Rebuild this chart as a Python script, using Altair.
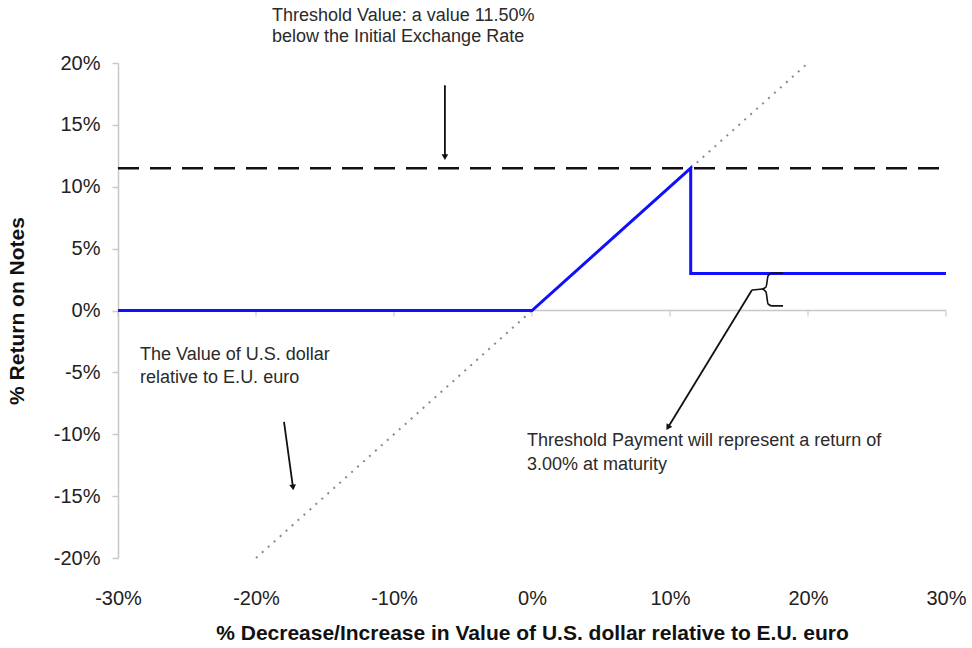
import altair as alt
import pandas as pd

# ---- data (percent units) ----
x_ticks = [-30, -20, -10, 0, 10, 20, 30]
y_ticks = [-20, -15, -10, -5, 0, 5, 10, 15, 20]

payoff_x = [-30, 0, 11.5, 11.5, 30]
payoff_y = [0, 0, 11.5, 3, 3]

diag_x = [-20, 20]
diag_y = [-20, 20]

threshold_level = 11.5
zero_x = [-30, 30]

# arrows: id, start x/y, end x/y, head angle
arrow_id = ["a1", "a2", "a3"]
arrow_x0 = [-6.31, -17.97, 15.94]
arrow_y0 = [18.2, -9.0, 1.66]
arrow_x1 = [-6.31, -17.32, 9.85]
arrow_y1 = [12.4, -14.3, -9.45]
arrow_angle = [180, 172.5, 211]

# brace
brace_grp = ["u"] * 7 + ["l"] * 6
brace_x = [18.19, 17.39, 17.10, 17.03, 16.96, 16.67, 15.94,
           16.67, 16.96, 17.03, 17.10, 17.39, 18.19]
brace_y = [3.03, 3.03, 2.79, 2.30, 1.90, 1.74, 1.66,
           1.74, 1.50, 1.01, 0.53, 0.37, 0.37]

# annotation texts
note_text = ["Threshold Value: a value 11.50%", "below the Initial Exchange Rate",
             "The Value of U.S. dollar", "relative to E.U. euro",
             "Threshold Payment will represent a return of", "3.00% at maturity"]
note_x = [-18.84, -18.84, -28.4, -28.4, -0.36, -0.36]
note_y = [23.8, 22.1, -3.6, -5.45, -10.55, -12.5]

FONT = "Liberation Sans"
xs = alt.Scale(domain=[-30, 30], nice=False, zero=False)
ys = alt.Scale(domain=[-20, 20], nice=False, zero=False)

payoff_df = pd.DataFrame({"x": payoff_x, "y": payoff_y, "i": range(len(payoff_x))})
diag_df = pd.DataFrame({"x": diag_x, "y": diag_y})
thr_df = pd.DataFrame({"x": zero_x, "y": [threshold_level] * 2})
zero_df = pd.DataFrame({"x": zero_x, "y": [0, 0]})
xt_df = pd.DataFrame({"x": x_ticks, "y": [0] * len(x_ticks)})

arrow_rows = []
for k in range(3):
    arrow_rows.append({"id": arrow_id[k], "x": arrow_x0[k], "y": arrow_y0[k], "o": 0})
    arrow_rows.append({"id": arrow_id[k], "x": arrow_x1[k], "y": arrow_y1[k], "o": 1})
arrow_df = pd.DataFrame(arrow_rows)
head_df = pd.DataFrame({"x": arrow_x1, "y": arrow_y1, "a": arrow_angle})
brace_df = pd.DataFrame({"g": brace_grp, "x": brace_x, "y": brace_y, "o": range(len(brace_x))})
note_df = pd.DataFrame({"t": note_text, "x": note_x, "y": note_y})

x_axis = alt.Axis(values=x_ticks, labelExpr="datum.value + '%'", domain=False, ticks=False,
                  grid=False, labelPadding=30, labelFontSize=20, labelFont=FONT, labelFlush=False,
                  labelColor="#222", title="% Decrease/Increase in Value of U.S. dollar relative to E.U. euro",
                  titleFont=FONT, titleFontSize=21, titleFontWeight="bold", titlePadding=14,
                  titleColor="#111")
y_axis = alt.Axis(values=y_ticks, labelExpr="datum.value + '%'", domain=True, domainColor="#c8c8c8",
                  domainWidth=1.5, ticks=True, tickColor="#c8c8c8", tickSize=6, tickWidth=1.5,
                  grid=False, labelPadding=12, labelFontSize=20, labelFont=FONT, labelColor="#222",
                  labelFlush=False,
                  title="% Return on Notes", titleFont=FONT, titleFontSize=21, titleFontWeight="bold",
                  titlePadding=26, titleColor="#111")

zero_line = alt.Chart(zero_df).mark_line(color="#c8c8c8", strokeWidth=1.5).encode(
    x=alt.X("x:Q", scale=xs, axis=x_axis), y=alt.Y("y:Q", scale=ys, axis=y_axis))

xticks = alt.Chart(xt_df).mark_tick(orient="vertical", size=6, thickness=1.5, color="#c8c8c8",
                                    yOffset=3).encode(x=alt.X("x:Q", scale=xs), y=alt.Y("y:Q", scale=ys))

diag = alt.Chart(diag_df).mark_line(color="#8a8a8a", strokeWidth=2, strokeDash=[2, 6]).encode(
    x=alt.X("x:Q", scale=xs), y=alt.Y("y:Q", scale=ys))

thr = alt.Chart(thr_df).mark_line(color="#111", strokeWidth=2.5, strokeDash=[21, 11]).encode(
    x=alt.X("x:Q", scale=xs), y=alt.Y("y:Q", scale=ys))

payoff = alt.Chart(payoff_df).mark_line(color="#1010ff", strokeWidth=3).encode(
    x=alt.X("x:Q", scale=xs), y=alt.Y("y:Q", scale=ys), order="i:Q")

arrows = alt.Chart(arrow_df).mark_line(color="#111", strokeWidth=1.8).encode(
    x=alt.X("x:Q", scale=xs), y=alt.Y("y:Q", scale=ys), detail="id:N", order="o:Q")

heads = alt.Chart(head_df).mark_point(shape="triangle-up", filled=True, size=45, color="#111",
                                      opacity=1).encode(
    x=alt.X("x:Q", scale=xs), y=alt.Y("y:Q", scale=ys), angle=alt.Angle("a:Q", scale=None))

brace = alt.Chart(brace_df).mark_line(color="#111", strokeWidth=1.6, interpolate="monotone").encode(
    x=alt.X("x:Q", scale=xs), y=alt.Y("y:Q", scale=ys), detail="g:N", order="o:Q")

notes = alt.Chart(note_df).mark_text(align="left", baseline="middle", font=FONT, fontSize=18,
                                     color="#2a2a2a").encode(
    x=alt.X("x:Q", scale=xs), y=alt.Y("y:Q", scale=ys), text="t:N")

chart = alt.layer(zero_line, xticks, diag, thr, payoff, arrows, heads, brace, notes).properties(
    width=828, height=495,
    autosize=alt.AutoSizeParams(type="none"),
    padding={"left": 118, "top": 63, "right": 26, "bottom": 90},
    background="white",
).configure_view(stroke=None)

chart.save("out.html", embed_options={"renderer": "svg", "actions": False})
